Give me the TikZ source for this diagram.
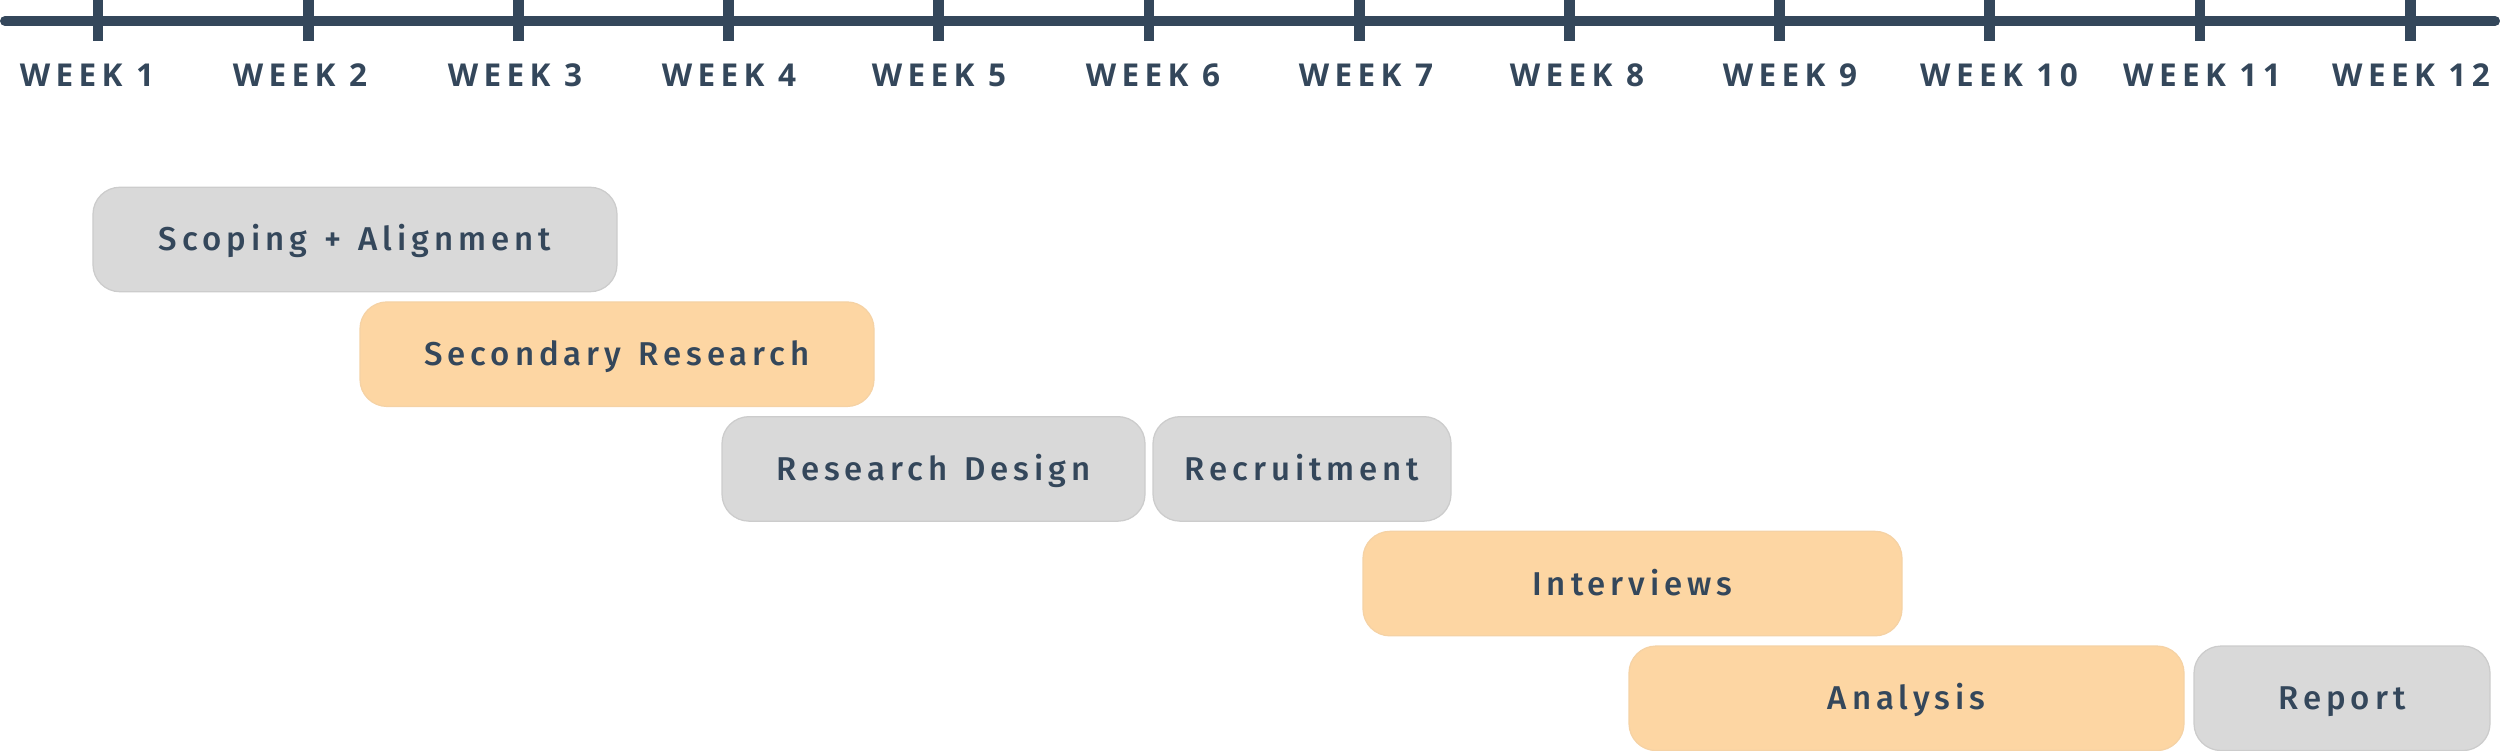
\documentclass[tikz,border=0pt]{standalone}
\usepackage{fontspec}
\newfontfamily\weekfont{Open Sans}[LetterSpace=17, UprightFont=* Bold]
\newfontfamily\boxfont{Fira Sans}[LetterSpace=15, UprightFont=* Medium, WordSpace=1.3]
\definecolor{ink}{HTML}{34475B}
\definecolor{greyfill}{HTML}{D9D9D9}
\definecolor{greyline}{HTML}{CCCCCC}
\definecolor{peach}{HTML}{FDD6A3}
\definecolor{peachline}{HTML}{F5D2A5}
\tikzset{
  weeklabel/.style={text=ink, font=\weekfont\fontsize{12.6}{13}\selectfont, inner sep=0pt, text height=9pt, text depth=0pt},
  taskbox/.style={rounded corners=10.8pt, line width=0.5pt, text=ink, font=\boxfont\fontsize{13.2}{14}\selectfont, inner sep=0pt, minimum height=41.8pt, text height=9.2pt, text depth=0pt},
  greybox/.style={taskbox, fill=greyfill, draw=greyline},
  peachbox/.style={taskbox, fill=peach, draw=peachline},
  axisline/.style={draw=ink, line width=4pt, line cap=round},
  tickmark/.style={draw=ink, line width=4.3pt}
}
\begin{document}
\begin{tikzpicture}[x=0.4pt, y=-0.4pt]
\useasboundingbox (0,0) rectangle (2500,751);
% axis
\coordinate (axL) at (5,21);
\coordinate (axR) at (2495,21);
\draw[axisline] (axL) -- (axR);
\foreach \i in {1,...,12} {
  \coordinate (t\i top) at ({98+210.2*(\i-1)},0);
  \coordinate (t\i bot) at ({98+210.2*(\i-1)},41);
  \draw[tickmark] (t\i top) -- (t\i bot);
}
% week labels
\node[weeklabel] (w1) at (87,75.5) {WEEK 1};
\node[weeklabel] (w2) at (300,75.5) {WEEK 2};
\node[weeklabel] (w3) at (515,75.5) {WEEK 3};
\node[weeklabel] (w4) at (729,75.5) {WEEK 4};
\node[weeklabel] (w5) at (939,75.5) {WEEK 5};
\node[weeklabel] (w6) at (1153,75.5) {WEEK 6};
\node[weeklabel] (w7) at (1366,75.5) {WEEK 7};
\node[weeklabel] (w8) at (1577,75.5) {WEEK 8};
\node[weeklabel] (w9) at (1790,75.5) {WEEK 9};
\node[weeklabel] (w10) at (1999,75.5) {WEEK 10};
\node[weeklabel] (w11) at (2202,75.5) {WEEK 11};
\node[weeklabel] (w12) at (2411,75.5) {WEEK 12};
% tasks
\node[greybox, minimum width=209.6pt] (scoping) at (355,239.5) {Scoping + Alignment};
\node[peachbox, minimum width=205.6pt] (secondary) at (617,354.2) {Secondary Research};
\node[greybox, minimum width=169.2pt] (design) at (933.5,468.9) {Research Design};
\node[greybox, minimum width=119.2pt] (recruit) at (1302,468.9) {Recruitment};
\node[peachbox, minimum width=215.6pt] (interviews) at (1632.5,583.6) {Interviews};
\node[peachbox, minimum width=222pt] (analysis) at (1906.5,698.3) {Analysis};
\node[greybox, minimum width=118.4pt] (report) at (2342,698.3) {Report};
\end{tikzpicture}
\end{document}
